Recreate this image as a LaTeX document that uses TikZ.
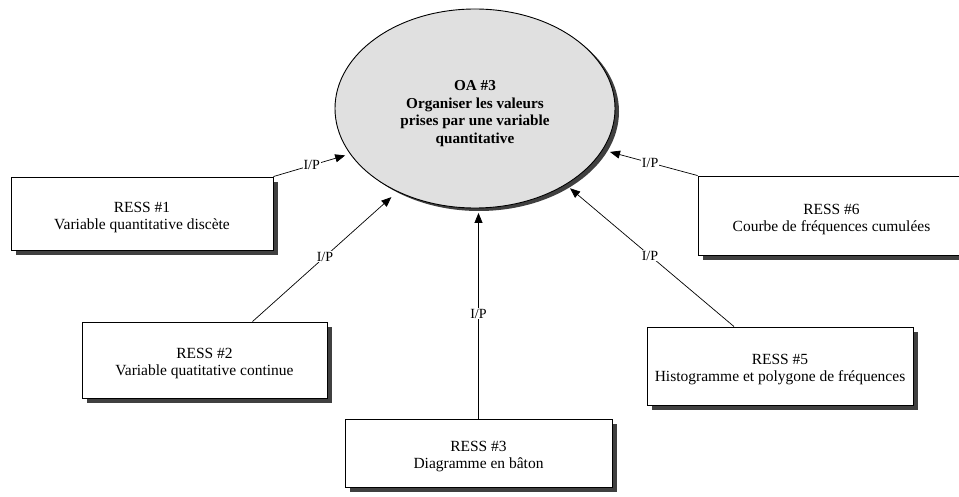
\documentclass[tikz,border=0pt]{standalone}
\usepackage{fontspec}
\setmainfont{Liberation Serif}
\usetikzlibrary{shapes.geometric,arrows.meta,shadows}

\definecolor{shadowgray}{HTML}{404040}
\definecolor{goalfill}{HTML}{E0E0E0}

% centred lines, set a little lower than the geometric centre of the shape
\newcommand{\lowlines}[2]{\raisebox{-#1}[\height][\depth]{\begin{tabular}{@{}c@{}}#2\end{tabular}}}

\tikzset{
  ressbox/.style={draw=black, line width=0.9pt, fill=white,
    inner sep=0pt, font=\fontsize{15.5}{16.8}\selectfont,
    drop shadow={shadow xshift=5pt, shadow yshift=-5pt, fill=shadowgray, opacity=1}},
  goal/.style={ellipse, draw=black, line width=0.9pt, fill=goalfill, inner sep=0pt,
    minimum width=280pt, minimum height=199pt,
    font=\bfseries\fontsize{15.2}{17.5}\selectfont,
    drop shadow={shadow xshift=4pt, shadow yshift=-3pt, fill=shadowgray, opacity=1}},
  link/.style={draw=black, line width=0.7pt, -{Triangle[length=10pt,width=8pt]}},
  lbl/.style={fill=white, inner sep=1pt, font=\fontsize{14}{15}\selectfont}
}

\begin{document}
\begin{tikzpicture}[x=1pt,y=-1pt]
  \clip (0,0) rectangle (959,497);
  \fill[white] (0,0) rectangle (959,497);

  % central learning objective
  \node[goal] (oa) at (475,108.5)
    {\lowlines{5pt}{OA \#3\\Organiser les valeurs\\prises par une variable\\quantitative}};

  % resources
  \node[ressbox, minimum width=262pt, minimum height=73pt] (b1) at (142,213.5)
    {\lowlines{4pt}{RESS \#1\\Variable quantitative disc\`ete}};
  \node[ressbox, minimum width=245pt, minimum height=76pt] (b2) at (204.5,360)
    {\lowlines{4pt}{RESS \#2\\Variable quatitative continue}};
  \node[ressbox, minimum width=267pt, minimum height=68pt] (b3) at (478.5,453)
    {\lowlines{4pt}{RESS \#3\\Diagramme en b\^aton}};
  \node[ressbox, minimum width=266pt, minimum height=78pt] (b5) at (780,366)
    {\lowlines{4pt}{RESS \#5\\Histogramme et polygone de fr\'equences}};
  \node[ressbox, minimum width=267pt, minimum height=79pt] (b6) at (831.5,215.5)
    {\lowlines{4pt}{RESS \#6\\Courbe de fr\'equences cumul\'ees}};

  % input/process links
  \draw[link, shorten >=5pt] (b1.north east) -- node[lbl] {I/P} (oa.200);
  \draw[link, shorten >=8pt] ([xshift=48pt]b2.north) -- node[lbl] {I/P} (oa.227);
  \draw[link, shorten >=4.5pt] (b3.north) -- node[lbl] {I/P} (b3.north |- oa.south);
  \draw[link, shorten >=5.5pt] ([xshift=-46pt]b5.north) -- node[lbl] {I/P} (oa.-40);
  \draw[link, shorten >=7.5pt] (b6.north west) -- node[lbl] {I/P} (oa.-18.4);
\end{tikzpicture}
\end{document}
